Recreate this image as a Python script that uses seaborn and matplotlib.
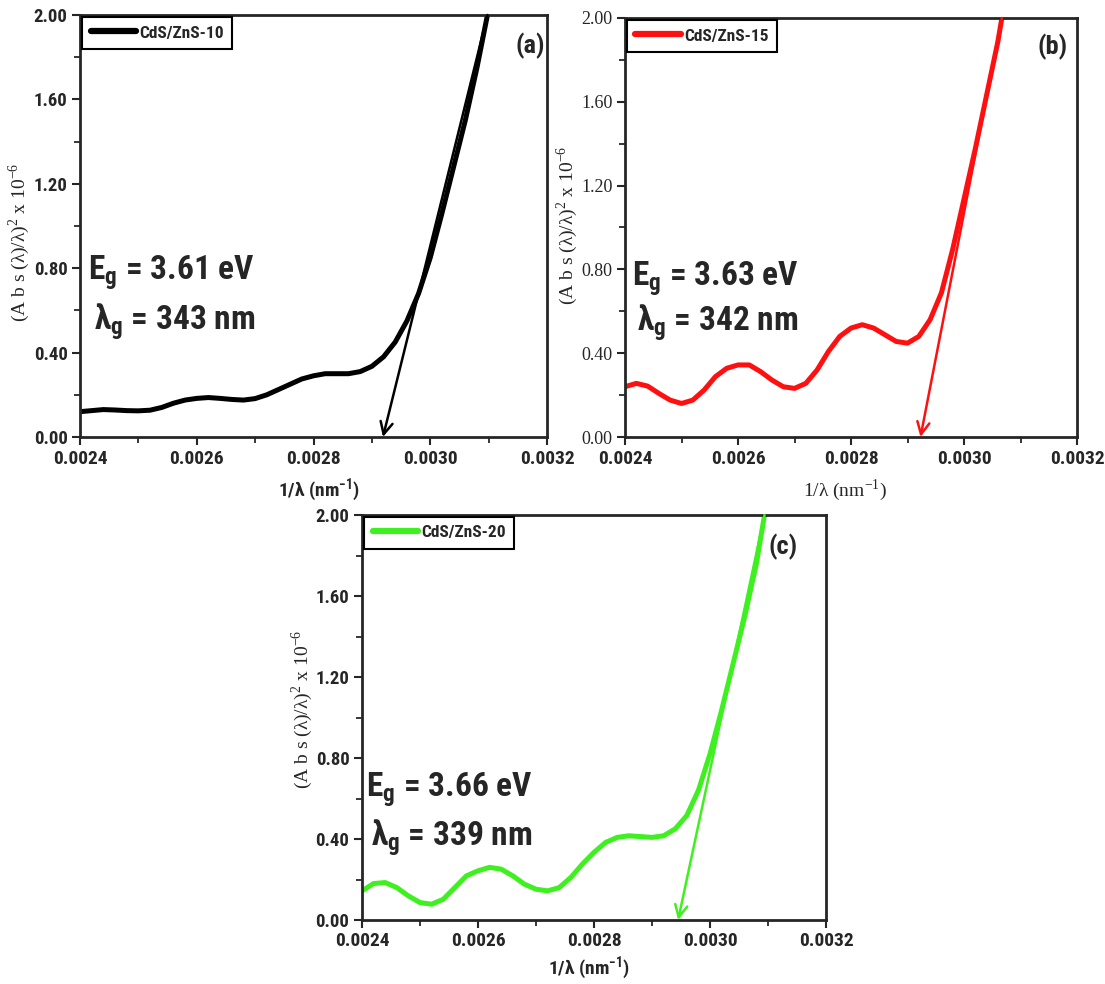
import matplotlib
matplotlib.use("Agg")
import matplotlib.pyplot as plt
import seaborn as sns
from matplotlib.ticker import MultipleLocator
from matplotlib import font_manager as fm
from matplotlib.ft2font import FT2Font

# ---------------- data ----------------
x_a = [0.00240, 0.00242, 0.00244, 0.00246, 0.00248, 0.00250, 0.00252, 0.00254, 0.00256,
       0.00258, 0.00260, 0.00262, 0.00264, 0.00266, 0.00268, 0.00270, 0.00272, 0.00274,
       0.00276, 0.00278, 0.00280, 0.00282, 0.00284, 0.00286, 0.00288, 0.00290, 0.00292,
       0.00294, 0.00296, 0.00298, 0.00300, 0.00302, 0.00304, 0.00306, 0.00308, 0.003098]
y_a = [0.12, 0.125, 0.13, 0.128, 0.125, 0.124, 0.127, 0.14, 0.16,
       0.175, 0.183, 0.187, 0.183, 0.178, 0.175, 0.182, 0.20, 0.225,
       0.25, 0.275, 0.29, 0.30, 0.30, 0.30, 0.31, 0.335, 0.38,
       0.45, 0.55, 0.68, 0.85, 1.06, 1.28, 1.50, 1.75, 2.0]

x_b = [0.00240, 0.00242, 0.00244, 0.00246, 0.00248, 0.00250, 0.00252, 0.00254, 0.00256,
       0.00258, 0.00260, 0.00262, 0.00264, 0.00266, 0.00268, 0.00270, 0.00272, 0.00274,
       0.00276, 0.00278, 0.00280, 0.00282, 0.00284, 0.00286, 0.00288, 0.00290, 0.00292,
       0.00294, 0.00296, 0.00298, 0.00300, 0.00302, 0.00304, 0.00306, 0.003067]
y_b = [0.24, 0.256, 0.243, 0.208, 0.176, 0.16, 0.176, 0.224, 0.288,
       0.328, 0.344, 0.344, 0.312, 0.272, 0.24, 0.232, 0.256, 0.32,
       0.408, 0.48, 0.52, 0.536, 0.52, 0.488, 0.456, 0.448, 0.48,
       0.56, 0.688, 0.896, 1.136, 1.376, 1.632, 1.888, 2.0]

x_c = [0.00240, 0.00242, 0.00244, 0.00246, 0.00248, 0.00250, 0.00252, 0.00254, 0.00256,
       0.00258, 0.00260, 0.00262, 0.00264, 0.00266, 0.00268, 0.00270, 0.00272, 0.00274,
       0.00276, 0.00278, 0.00280, 0.00282, 0.00284, 0.00286, 0.00288, 0.00290, 0.00292,
       0.00294, 0.00296, 0.00298, 0.00300, 0.00302, 0.00304, 0.00306, 0.00308, 0.003094]
y_c = [0.144, 0.18, 0.185, 0.16, 0.119, 0.086, 0.078, 0.102, 0.16,
       0.218, 0.243, 0.26, 0.251, 0.218, 0.177, 0.152, 0.144, 0.16,
       0.21, 0.276, 0.334, 0.383, 0.408, 0.416, 0.412, 0.408, 0.416,
       0.45, 0.516, 0.64, 0.82, 1.036, 1.268, 1.5, 1.76, 2.0]

series_names = ["CdS/ZnS-10", "CdS/ZnS-15", "CdS/ZnS-20"]
panel_tags = ["(a)", "(b)", "(c)"]
band_gaps = ["3.61", "3.63", "3.66"]
gap_wavelengths = ["343", "342", "339"]
tangent_top_x = [0.003098, 0.003067, 0.003094]
tangent_top_y = [2.0, 2.0, 2.0]
intercept_x = [0.002919, 0.002923, 0.002945]

xticks = [0.0024, 0.0026, 0.0028, 0.0030, 0.0032]
xtick_labels = ["0.0024", "0.0026", "0.0028", "0.0030", "0.0032"]
yticks = [0.0, 0.4, 0.8, 1.2, 1.6, 2.0]
ytick_labels = ["0.00", "0.40", "0.80", "1.20", "1.60", "2.00"]

# ---------------- fonts ----------------
def has_lambda(path):
    try:
        return 0x3BB in FT2Font(path).get_charmap()
    except Exception:
        return False


def pick(cands, fallback):
    for c in cands:
        files = [f for f in fm.fontManager.ttflist if f.name == c
                 and isinstance(f.weight, int) and f.weight >= 600]
        if files and all(has_lambda(f.fname) for f in files):
            return c
    return fallback


NARROW_NAME = pick(['Arial Narrow', 'Liberation Sans Narrow', 'Archivo Narrow', 'Roboto Condensed',
                    'PT Sans Narrow', 'Fira Sans Condensed', 'IBM Plex Sans Condensed',
                    'Open Sans Condensed', 'Encode Sans Condensed', 'Barlow Semi Condensed',
                    'Sofia Sans Condensed'], 'Liberation Sans')
NARROW = [NARROW_NAME, 'Liberation Sans', 'DejaVu Sans']
SERIF = ['Liberation Serif', 'DejaVu Serif']

# ---------------- style ----------------
sns.set_style("ticks")
plt.rcParams['font.family'] = NARROW
plt.rcParams['axes.linewidth'] = 1.8

fig = plt.figure(figsize=(11.05, 9.84), dpi=100)
positions = [
    [80 / 1105, 1 - 437 / 984, 467 / 1105, 422 / 984],
    [625 / 1105, 1 - 437 / 984, 452 / 1105, 419 / 984],
    [362 / 1105, 1 - 920 / 984, 464 / 1105, 405 / 984],
]
colors = ["#000000", "#ff1010", "#3ff020"]
xs = [x_a, x_b, x_c]
ys = [y_a, y_b, y_c]

ylabel_text = "(A b s (λ)/λ)$^\\mathregular{2}$ x 10$^\\mathregular{-6}$"
xlabel_text = "1/λ (nm$^\\mathregular{-1}$)"

ylabel_pos = [(-0.13, 0.462), (-0.128, 0.506), (-0.13, 0.52)]
xlabel_pos = [(0.512, -0.126), (0.487, -0.126), (0.49, -0.118)]
tag_pos = [(0.965, 0.927), (0.945, 0.93), (0.907, 0.922)]
eg_pos = [(0.017, 0.435, 0.322), (0.015, 0.425, 0.322), (0.008, 0.37, 0.255)]

for i in range(3):
    ax = fig.add_axes(positions[i])
    sns.lineplot(x=xs[i], y=ys[i], ax=ax, color=colors[i], lw=3.6,
                 label=series_names[i], sort=False)
    ax.set_xlim(0.0024, 0.0032)
    ax.set_ylim(0.0, 2.0)

    ax.set_xticks(xticks)
    ax.set_xticklabels(xtick_labels, fontfamily=NARROW, fontweight='bold', fontsize=14)
    ax.set_yticks(yticks)
    if i == 1:
        ax.set_yticklabels(ytick_labels, fontfamily=SERIF, fontweight='normal', fontsize=13)
    else:
        ax.set_yticklabels(ytick_labels, fontfamily=NARROW, fontweight='bold', fontsize=13.5)
    ax.xaxis.set_minor_locator(MultipleLocator(0.0001))
    ax.yaxis.set_minor_locator(MultipleLocator(0.2))
    ax.tick_params(which='major', direction='out', length=6, width=1.5, pad=3)
    ax.tick_params(which='minor', direction='out', length=4, width=1.3)
    for sp in ax.spines.values():
        sp.set_linewidth(2.0)

    # labels
    ax.set_ylabel(ylabel_text, fontfamily=SERIF, fontsize=14, fontweight='normal')
    ax.yaxis.set_label_coords(*ylabel_pos[i])
    ax.yaxis.label.set_va('center')
    if i == 1:
        ax.set_xlabel(xlabel_text, fontfamily=SERIF, fontsize=14, fontweight='normal')
    else:
        ax.set_xlabel(xlabel_text, fontfamily=NARROW, fontsize=14, fontweight='bold')
    ax.xaxis.set_label_coords(*xlabel_pos[i])
    ax.xaxis.label.set_va('center')

    # tangent arrow to x-intercept
    ax.annotate("", xy=(intercept_x[i], 0.0), xytext=(tangent_top_x[i], tangent_top_y[i]),
                arrowprops=dict(arrowstyle='->', color=colors[i], lw=1.8,
                                mutation_scale=22, shrinkA=0, shrinkB=0))

    # band gap text
    ex, ey1, ey2 = eg_pos[i]
    ax.text(ex, ey1, "E$_\\mathregular{g}$ = " + band_gaps[i] + " eV", transform=ax.transAxes,
            ha='left', va='top', fontsize=24, fontweight='bold', fontfamily=NARROW)
    ax.text(ex + 0.012, ey2, "λ$_\\mathregular{g}$ = " + gap_wavelengths[i] + " nm",
            transform=ax.transAxes, ha='left', va='top', fontsize=24, fontweight='bold',
            fontfamily=NARROW)

    ax.text(tag_pos[i][0], tag_pos[i][1], panel_tags[i], transform=ax.transAxes,
            ha='center', va='center', fontsize=19, fontfamily=NARROW, fontweight='bold')

    leg = ax.legend(loc='upper left', bbox_to_anchor=(0.004, 0.996), borderaxespad=0,
                    frameon=True, fancybox=False, edgecolor='black', framealpha=1,
                    handlelength=2.6, handletextpad=0.2, borderpad=0.5,
                    prop={'family': NARROW, 'weight': 'bold', 'size': 12.5})
    leg.get_frame().set_linewidth(1.5)
    for h in leg.get_lines():
        h.set_linewidth(4.5)

fig.savefig("out.png", dpi=100)
